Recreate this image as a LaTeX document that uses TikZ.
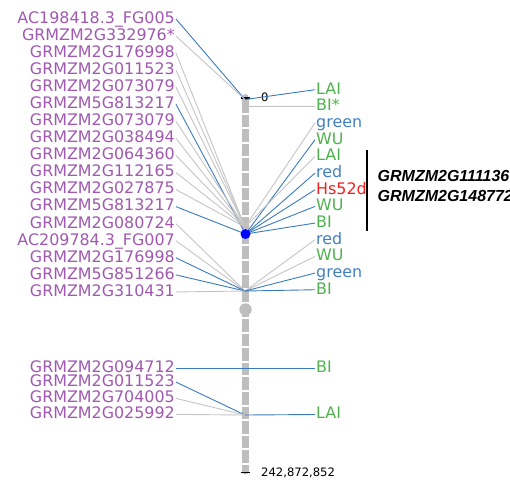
\documentclass[tikz,border=0pt]{standalone}
\usepackage{fontspec}
\setmainfont{DejaVu Sans}
\newfontfamily\genefont{Liberation Sans}
\definecolor{markerpurple}{RGB}{160,88,176}
\definecolor{traitgreen}{RGB}{78,178,78}
\definecolor{traitblue}{RGB}{66,128,192}
\definecolor{traitred}{RGB}{240,32,32}
\definecolor{linkblue}{RGB}{58,122,190}
\definecolor{linkgray}{RGB}{196,196,196}
\definecolor{chromgray}{RGB}{190,190,190}
\begin{document}
\begin{tikzpicture}[x=1pt,y=-1pt,
  lab/.style={font=\fontsize{15.9}{18}\selectfont, inner sep=1pt,
              text height=11.6pt, text depth=3pt},
  leftlab/.style={lab, anchor=east, text=markerpurple},
  rightlab/.style={lab, anchor=west},
  blueln/.style={draw=linkblue, line width=0.9pt},
  grayln/.style={draw=linkgray, line width=0.9pt},
  ticklab/.style={font=\fontsize{11.6}{13}\selectfont, inner sep=1pt,
                  text height=8.4pt, text depth=0pt, anchor=west},
  genelab/.style={font=\genefont\bfseries\itshape\fontsize{16}{18}\selectfont,
                  inner sep=0pt, anchor=base west}]
\useasboundingbox (0,0) rectangle (510,480);

% chromosome body with bin gaps and centromere
\draw[chromgray, line width=7pt, line cap=round] (245,97.5) -- (245,471);
\draw[white, line width=7.2pt, dash pattern=on 2pt off 12.6pt] (245,112.5) -- (245,468);
\fill[chromgray] (245.5,309.5) circle (6.2);

% ends of the scale
\draw[black, line width=1.4pt] (240.5,98) -- (250,98);
\draw[black, line width=1.4pt] (240.5,472.5) -- (250,472.5);
\node[ticklab] (start) at (260,97.3) {0};
\node[ticklab] (stop) at (260,472.5) {242,872,852};

% marker positions on the chromosome
\coordinate (T) at (245,99.5);
\coordinate (T2) at (247,106.4);
\coordinate (A) at (245,227);
\coordinate (B) at (245.5,234);
\coordinate (C) at (245,291);
\coordinate (D) at (245,368.5);
\coordinate (E) at (245,415);

% markers on the left
\foreach \t/\s/\g [count=\i from 0] in {
  AC198418.3\_FG005/blueln/T,
  GRMZM2G332976*/grayln/T,
  GRMZM2G176998/grayln/A,
  GRMZM2G011523/grayln/A,
  GRMZM2G073079/grayln/A,
  GRMZM5G813217/blueln/B,
  GRMZM2G073079/grayln/A,
  GRMZM2G038494/grayln/A,
  GRMZM2G064360/grayln/A,
  GRMZM2G112165/grayln/A,
  GRMZM2G027875/grayln/A,
  GRMZM5G813217/blueln/B,
  GRMZM2G080724/grayln/C,
  AC209784.3\_FG007/grayln/C,
  GRMZM2G176998/blueln/C,
  GRMZM5G851266/blueln/C,
  GRMZM2G310431/grayln/C}{
  \node[leftlab] (L\i) at (176,{19+17.06*\i}) {\t};
  \draw[\s] (L\i.east) -- (\g);
}

% traits on the right
\foreach \t/\c/\s/\g [count=\j from 0] in {
  LAI/traitgreen/blueln/T,
  BI*/traitgreen/grayln/T2,
  green/traitblue/grayln/A,
  WU/traitgreen/blueln/B,
  LAI/traitgreen/grayln/A,
  red/traitblue/blueln/B,
  Hs52d/traitred/blueln/B,
  WU/traitgreen/blueln/B,
  BI/traitgreen/blueln/B,
  red/traitblue/grayln/C,
  WU/traitgreen/grayln/C,
  green/traitblue/blueln/C,
  BI/traitgreen/blueln/C}{
  \node[rightlab, text=\c] (R\j) at (315,{89.7+16.67*\j}) {\t};
  \draw[\s] (\g) -- (R\j.west);
}

% lower arm
\node[leftlab] (M1) at (176,368.5) {GRMZM2G094712};
\node[leftlab] (M2) at (176,382.1) {GRMZM2G011523};
\node[leftlab] (M3) at (176,398.4) {GRMZM2G704005};
\node[leftlab] (M4) at (176,414.4) {GRMZM2G025992};
\node[rightlab, text=traitgreen] (Q1) at (315,368.5) {BI};
\node[rightlab, text=traitgreen] (Q2) at (315,414.5) {LAI};
\draw[blueln] (M1.east) -- (D) -- (Q1.west);
\draw[blueln] (M2.east) -- (E);
\draw[grayln] (M3.east) -- (E);
\draw[grayln] (M4.east) -- (E);
\draw[blueln] (E) -- (Q2.west);

% highlighted marker
\fill[blue] (B) circle (5);

% candidate genes of the interval
\coordinate (brtop) at (367,150);
\coordinate (brbot) at (367,231);
\draw[black, line width=1.3pt] (brtop) -- (brbot);
\node[genelab] (G1) at (377.5,181) {GRMZM2G111136};
\node[genelab] (G2) at (377.5,201) {GRMZM2G148772};
\end{tikzpicture}
\end{document}
